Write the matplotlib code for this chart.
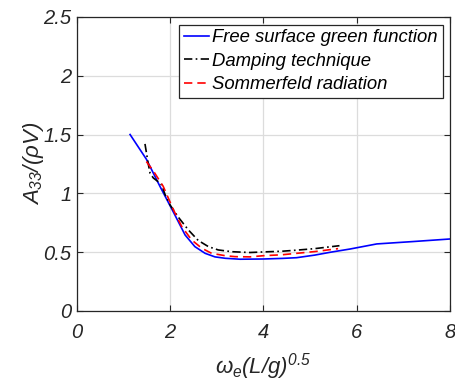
import matplotlib
matplotlib.use('Agg')
import matplotlib.pyplot as plt

# frequency / added-mass data
free_x = [1.14, 1.49, 1.78, 2.07, 2.32, 2.53, 2.75, 2.96, 3.18, 3.5, 4.0, 4.4,
          4.71, 5.1, 5.43, 5.86, 6.43, 7.2, 8.0]
free_y = [1.50, 1.29, 1.06, 0.84, 0.646, 0.547, 0.49, 0.46, 0.448, 0.44, 0.442,
          0.447, 0.453, 0.475, 0.499, 0.527, 0.57, 0.59, 0.612]

damp_x = [1.46, 1.53, 1.57, 1.64, 1.74, 1.82, 1.89, 2.0, 2.17, 2.39, 2.6, 2.82,
          3.03, 3.32, 3.71, 4.0, 4.4, 4.71, 5.1, 5.63]
damp_y = [1.42, 1.25, 1.17, 1.13, 1.10, 1.07, 0.99, 0.90, 0.80, 0.689, 0.60,
          0.547, 0.519, 0.504, 0.497, 0.502, 0.508, 0.517, 0.53, 0.555]

somm_x = [1.49, 1.64, 1.85, 2.07, 2.25, 2.46, 2.68, 2.89, 3.18, 3.39, 3.71, 4.0,
          4.4, 4.71, 5.1, 5.6]
somm_y = [1.27, 1.19, 1.06, 0.86, 0.717, 0.604, 0.533, 0.49, 0.47, 0.462, 0.46,
          0.47, 0.478, 0.49, 0.505, 0.53]

x_ticks = [0, 2, 4, 6, 8]
y_ticks = [0, 0.5, 1, 1.5, 2, 2.5]
y_tick_labels = ['0', '0.5', '1', '1.5', '2', '2.5']

plt.rcParams['font.family'] = 'Liberation Sans'
plt.rcParams['font.style'] = 'italic'
plt.rcParams['mathtext.fontset'] = 'custom'
plt.rcParams['mathtext.rm'] = 'Liberation Sans:italic'
plt.rcParams['mathtext.it'] = 'Liberation Sans:italic'

fig = plt.figure(figsize=(4.55, 3.83), dpi=100)
ax = fig.add_axes([0.169, 0.188, 0.82, 0.768])

ax.plot(free_x, free_y, color='#0000ff', lw=1.2, label='Free surface green function')
ax.plot(damp_x, damp_y, color='black', lw=1.2, linestyle=(0, (5, 2, 1, 2)),
        label='Damping technique')
ax.plot(somm_x, somm_y, color='#ff0000', lw=1.2, linestyle=(0, (5, 3)),
        label='Sommerfeld radiation')

ax.set_xlim(0, 8)
ax.set_ylim(0, 2.5)
ax.set_xticks(x_ticks)
ax.set_yticks(y_ticks)
ax.set_yticklabels(y_tick_labels)
ax.grid(True, color='#dcdcdc', lw=0.9)
ax.set_axisbelow(True)
ax.tick_params(direction='in', length=4, width=0.8, top=True, right=True,
               labelsize=14.5, colors='#262626', labelcolor='#262626')
ax.tick_params(axis='x', pad=9)
ax.tick_params(axis='y', pad=4)
for s in ax.spines.values():
    s.set_color('#262626')
    s.set_linewidth(0.9)

ax.set_xlabel(r'$\omega_e(L/g)^{0.5}$', fontsize=16, color='#262626', labelpad=6)
ax.set_ylabel(r'$A_{33}/(\rho V)$', fontsize=16, color='#262626', labelpad=-2)

leg = ax.legend(loc='upper right', bbox_to_anchor=(0.980, 0.973), borderaxespad=0,
                fontsize=13.3, handlelength=1.35, handletextpad=0.2,
                labelspacing=0.35, borderpad=0.25, fancybox=False, framealpha=1)
leg.get_frame().set_edgecolor('#262626')
leg.get_frame().set_linewidth(0.9)

fig.savefig('out.png', dpi=100)
